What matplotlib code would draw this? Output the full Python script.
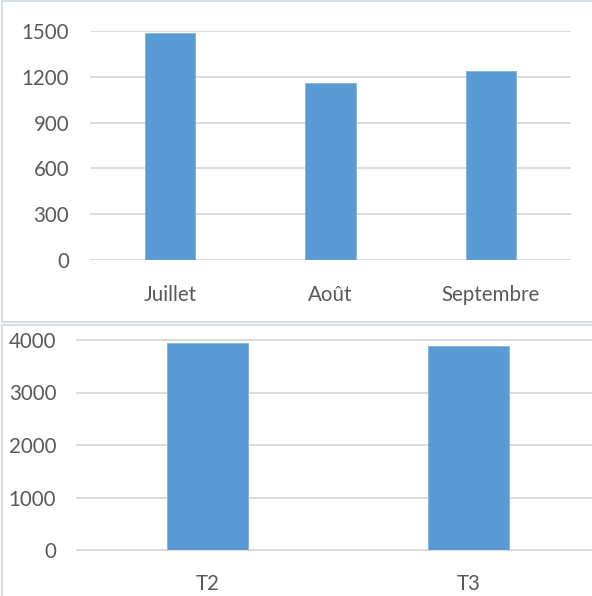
import matplotlib
matplotlib.use("Agg")
import matplotlib.pyplot as plt
from matplotlib.patches import Rectangle

months = ["Juillet", "Août", "Septembre"]
month_values = [1490, 1160, 1240]
month_ticks = [0, 300, 600, 900, 1200, 1500]

quarters = ["T2", "T3"]
quarter_values = [3940, 3890]
quarter_ticks = [0, 1000, 2000, 3000, 4000]

BAR = "#5b9bd5"
GRID = "#d9d9d9"
TXT = "#595959"
FRAME = "#d5dee9"

plt.rcParams['font.family'] = ['Lato', 'DejaVu Sans']

W, H = 592, 596
fig = plt.figure(figsize=(W / 100, H / 100), dpi=100)
fig.patch.set_facecolor("white")

# chart frames
fig.patches.append(Rectangle((2 / W, (H - 322) / H), 600 / W, 321 / H,
                             transform=fig.transFigure, fill=False,
                             edgecolor=FRAME, lw=1.5, zorder=0))
fig.patches.append(Rectangle((2 / W, -5 / H), 600 / W, (H - 325 + 5) / H,
                             transform=fig.transFigure, fill=False,
                             edgecolor=FRAME, lw=1.5, zorder=0))


def style(ax, ticks, ytop, xpad):
    ax.set_ylim(0, ytop)
    ax.set_yticks(ticks)
    ax.grid(axis="y", color=GRID, lw=1.3)
    ax.set_axisbelow(True)
    for s in ax.spines.values():
        s.set_visible(False)
    ax.tick_params(axis="both", length=0, labelsize=14.8, labelcolor=TXT)
    ax.tick_params(axis="y", pad=15)
    ax.tick_params(axis="x", pad=xpad)
    ax.set_facecolor("none")


# top chart
ax1 = fig.add_axes([90 / W, (H - 260) / H, 481 / W, 229 / H])
ax1.bar(range(len(months)), month_values, width=0.3125, color=BAR,
        edgecolor="#7fb1e0", lw=0.6)
ax1.set_xlim(-0.5, len(months) - 0.5)
ax1.set_xticks(range(len(months)))
ax1.set_xticklabels(months)
style(ax1, month_ticks, 1500, 18)

# bottom chart
ax2 = fig.add_axes([77 / W, (H - 550) / H, 522 / W, 210 / H])
ax2.bar(range(len(quarters)), quarter_values, width=0.314, color=BAR,
        edgecolor="#7fb1e0", lw=0.6)
ax2.set_xlim(-0.5, len(quarters) - 0.5)
ax2.set_xticks(range(len(quarters)))
ax2.set_xticklabels(quarters)
style(ax2, quarter_ticks, 4000, 17)
for gl in ax2.get_ygridlines():
    gl.set_clip_on(False)

fig.savefig("out.png", dpi=100)
